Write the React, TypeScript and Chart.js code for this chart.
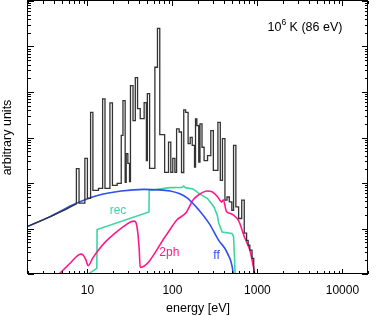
import React, { useEffect, useRef } from 'react';
import { Chart, registerables } from 'chart.js';

Chart.register(...registerables);

// ---- axis ranges / ticks ----
const xMin = 2;
const xMax = 20000;
const yMin = 0.1;
const yMax = 1e5;
const xTickLabels = [10, 100, 1000, 10000];

// ---- free-free continuum (ff) ----
const ffEnergy = [2, 3.6, 7.3, 13.5, 25, 46.5, 94, 146, 206, 269, 349, 443, 520, 545];
const ffValue = [1.12, 1.8, 3.53, 5.37, 6.67, 7.26, 6.67, 4.85, 2.52, 1.31, 0.555, 0.288, 0.1, 0.03];

// ---- recombination continuum (rec) ----
const recEnergy = [9.0, 12.9, 13.0, 53, 53.3, 94, 130, 136, 142, 175, 207, 259, 308, 337, 352, 385, 501, 524, 537, 547, 555];
const recValue = [0.085, 0.133, 0.95, 2.31, 6.9, 7.9, 8.0, 8.6, 7.9, 7.4, 5.85, 4.55, 2.98, 1.96, 1.29, 0.84, 0.78, 0.66, 0.24, 0.095, 0.03];

// ---- two-photon continuum (2ph) ----
const tpEnergy = [4.4, 6.2, 7.6, 8.3, 8.9, 9.6, 10.2, 11.5, 13.5, 16.5, 21, 26.5, 32.6, 35.6, 37.5, 39.2, 40.7, 41.8, 86, 112, 146, 174, 207, 255, 296, 340, 368, 380, 398, 415, 430, 460, 524, 597, 713, 814, 889, 929, 960];
const tpValue = [0.09, 0.17, 0.25, 0.274, 0.262, 0.205, 0.152, 0.22, 0.336, 0.52, 0.78, 1.1, 1.4, 1.45, 1.3, 0.8, 0.336, 0.14, 0.75, 1.52, 2.28, 4.2, 5.6, 6.67, 6.34, 5.0, 4.0, 3.8, 4.3, 3.2, 2.4, 2.2, 1.96, 1.52, 0.61, 0.336, 0.157, 0.095, 0.03];

// ---- total spectrum (histogram) ----
const histLeadEnergy = [2, 3.6, 5.5, 7.42];
const histLeadValue = [1.12, 1.8, 2.6, 3.5];
const histEdges = [7.42, 7.97, 9.33, 10.0, 10.9, 11.6, 13.5, 15.1, 16.1, 18.4, 19.7, 22.4, 25.0, 26.2, 27.8, 28.6, 29.9, 31.3, 32.1, 34.4, 36.6, 38.9, 41.8, 46.5, 49.4, 50.7, 53.9, 62.2, 66.7, 71.0, 81.0, 90.0, 95.7, 101, 107, 112, 120, 128, 136, 143, 153, 162, 171, 182, 187, 194, 204, 211, 223, 236, 259, 283, 303, 343, 366, 388, 415, 439, 467, 500, 524, 558, 601, 654, 700, 746, 778, 814, 865, 905, 950];
const histValues = [20.6, 3.6, 34.7, 4.6, 358, 6.9, 7.6, 703, 7.6, 575, 8.9, 9.85, 111, 646, 10.3, 44, 27, 10.8, 1375, 235, 2060, 431, 261, 583, 31, 918, 21, 3500, 24950, 116, 17.1, 79, 17.1, 34.7, 17.1, 155, 132, 17, 404, 358, 73, 101, 67, 22.4, 257, 183, 28.8, 200, 61, 31, 40, 142, 19, 216, 11.4, 94, 4.2, 4.93, 3.83, 2.52, 67, 2.98, 1.66, 4.2, 0.79, 0.55, 0.43, 0.336, 0.221, 0.05];

// ---- in-plot labels ----
const curveLabelText = ['rec', '2ph', 'ff'];
const curveLabelEnergy = [22.9, 92, 331];
const curveLabelValue = [2.45, 0.295, 0.248];
const annotationEnergy = 10000;
const annotationValue = 25600;

const COLORS = {
  hist: '#333333',
  ff: '#2f4ff0',
  rec: '#3ed6a0',
  tp: '#ff1a8c',
};
const FONT = '"Liberation Sans", Arial, Helvetica, sans-serif';

function pts(xs: number[], ys: number[]) {
  return xs.map((x, i) => ({ x, y: ys[i] }));
}

function histPoints() {
  const out = pts(histLeadEnergy, histLeadValue);
  for (let i = 0; i < histValues.length; i++) {
    out.push({ x: histEdges[i], y: histValues[i] });
    out.push({ x: histEdges[i + 1], y: histValues[i] });
  }
  return out;
}

function isDecade(v: number) {
  const l = Math.log10(v);
  return Math.abs(l - Math.round(l)) < 1e-6;
}

const framePlugin = {
  id: 'frameTicks',
  afterDatasetsDraw(chart: any) {
    const { ctx, chartArea: a, scales } = chart;
    const xs = scales.x;
    const ys = scales.y;
    ctx.save();
    ctx.strokeStyle = '#000';
    ctx.lineWidth = 1;
    ctx.beginPath();
    const xd0 = Math.floor(Math.log10(xMin));
    const xd1 = Math.ceil(Math.log10(xMax));
    for (let d = xd0; d <= xd1; d++) {
      for (let m = 1; m <= 9; m++) {
        const v = m * Math.pow(10, d);
        if (v < xMin || v > xMax) continue;
        const px = Math.round(xs.getPixelForValue(v)) + 0.5;
        const len = m === 1 ? 5 : 3;
        ctx.moveTo(px, a.bottom);
        ctx.lineTo(px, a.bottom - len);
        ctx.moveTo(px, a.top);
        ctx.lineTo(px, a.top + len);
      }
    }
    const yd0 = Math.floor(Math.log10(yMin));
    const yd1 = Math.ceil(Math.log10(yMax));
    for (let d = yd0; d <= yd1; d++) {
      for (let m = 1; m <= 9; m++) {
        const v = m * Math.pow(10, d);
        if (v < yMin || v > yMax) continue;
        const py = Math.round(ys.getPixelForValue(v)) + 0.5;
        const len = m === 1 ? 6 : 3;
        ctx.moveTo(a.left, py);
        ctx.lineTo(a.left + len, py);
        ctx.moveTo(a.right, py);
        ctx.lineTo(a.right - len, py);
      }
    }
    ctx.stroke();
    ctx.strokeRect(Math.round(a.left) - 0.5, Math.round(a.top) - 0.5, Math.round(a.right - a.left), Math.round(a.bottom - a.top));
    ctx.restore();
  },
};

const labelPlugin = {
  id: 'curveLabels',
  afterDatasetsDraw(chart: any) {
    const { ctx, scales } = chart;
    const xs = scales.x;
    const ys = scales.y;
    const colors = [COLORS.rec, COLORS.tp, COLORS.ff];
    ctx.save();
    ctx.font = `12px ${FONT}`;
    ctx.textAlign = 'center';
    ctx.textBaseline = 'middle';
    curveLabelText.forEach((t, i) => {
      ctx.fillStyle = colors[i];
      ctx.fillText(t, xs.getPixelForValue(curveLabelEnergy[i]), ys.getPixelForValue(curveLabelValue[i]));
    });
    // annotation 10^6 K (86 eV), right aligned
    const right = xs.getPixelForValue(annotationEnergy);
    const cy = ys.getPixelForValue(annotationValue);
    ctx.fillStyle = '#000';
    ctx.textAlign = 'left';
    const mainFont = `12.5px ${FONT}`;
    const supFont = `8.5px ${FONT}`;
    ctx.font = mainFont;
    const w1 = ctx.measureText('10').width;
    const w3 = ctx.measureText(' K (86 eV)').width;
    ctx.font = supFont;
    const w2 = ctx.measureText('6').width;
    let x0 = right - (w1 + w2 + w3);
    ctx.font = mainFont;
    ctx.fillText('10', x0, cy);
    x0 += w1;
    ctx.font = supFont;
    ctx.fillText('6', x0, cy - 5);
    x0 += w2;
    ctx.font = mainFont;
    ctx.fillText(' K (86 eV)', x0, cy);
    ctx.restore();
  },
};

export default function App() {
  const canvasRef = useRef<HTMLCanvasElement | null>(null);

  useEffect(() => {
    document.body.style.margin = '0';
    const canvas = canvasRef.current;
    if (!canvas) return;
    const line = (data: any[], color: string, width: number, smooth = false) => ({
      data,
      borderColor: color,
      borderWidth: width,
      pointRadius: 0,
      showLine: true,
      tension: 0,
      cubicInterpolationMode: smooth ? 'monotone' : 'default',
      fill: false,
    });
    const chart = new Chart(canvas, {
      type: 'scatter',
      data: {
        datasets: [
          { ...line(histPoints(), COLORS.hist, 1.3), borderJoinStyle: 'miter' },
          line(pts(ffEnergy, ffValue), COLORS.ff, 1.6, true),
          line(pts(tpEnergy, tpValue), COLORS.tp, 1.6, true),
          line(pts(recEnergy, recValue), COLORS.rec, 1.6),
        ],
      },
      options: {
        animation: false,
        responsive: false,
        maintainAspectRatio: false,
        layout: { padding: { top: 1, right: 1, left: 0, bottom: 0 } },
        plugins: { legend: { display: false }, tooltip: { enabled: false } },
        scales: {
          x: {
            type: 'logarithmic',
            min: xMin,
            max: xMax,
            grid: { display: false, drawTicks: false },
            border: { display: false },
            ticks: {
              autoSkip: false,
              maxRotation: 0,
              padding: 9,
              color: '#000',
              font: { family: FONT, size: 12 },
              callback: (v: any) => {
                const n = Number(v);
                return isDecade(n) && xTickLabels.some((t) => Math.abs(t - n) < 1e-6 * t) ? String(Math.round(n)) : '';
              },
            },
            title: {
              display: true,
              text: 'energy [eV]',
              color: '#000',
              font: { family: FONT, size: 12.5 },
              padding: { top: 0, bottom: 0 },
            },
            afterFit: (s: any) => {
              s.height = 42;
            },
          },
          y: {
            type: 'logarithmic',
            min: yMin,
            max: yMax,
            grid: { display: false, drawTicks: false },
            border: { display: false },
            ticks: { display: false },
            title: {
              display: true,
              text: 'arbitrary units',
              color: '#000',
              font: { family: FONT, size: 12.5 },
              padding: { top: 0, bottom: 0 },
            },
            afterFit: (s: any) => {
              s.width = 28;
            },
          },
        },
      },
      plugins: [framePlugin, labelPlugin],
    } as any);
    return () => chart.destroy();
  }, []);

  return (
    <div style={{ width: 377, height: 316, position: 'relative' }}>
      <canvas ref={canvasRef} width={377} height={316} style={{ display: 'block', width: 377, height: 316 }} />
    </div>
  );
}
